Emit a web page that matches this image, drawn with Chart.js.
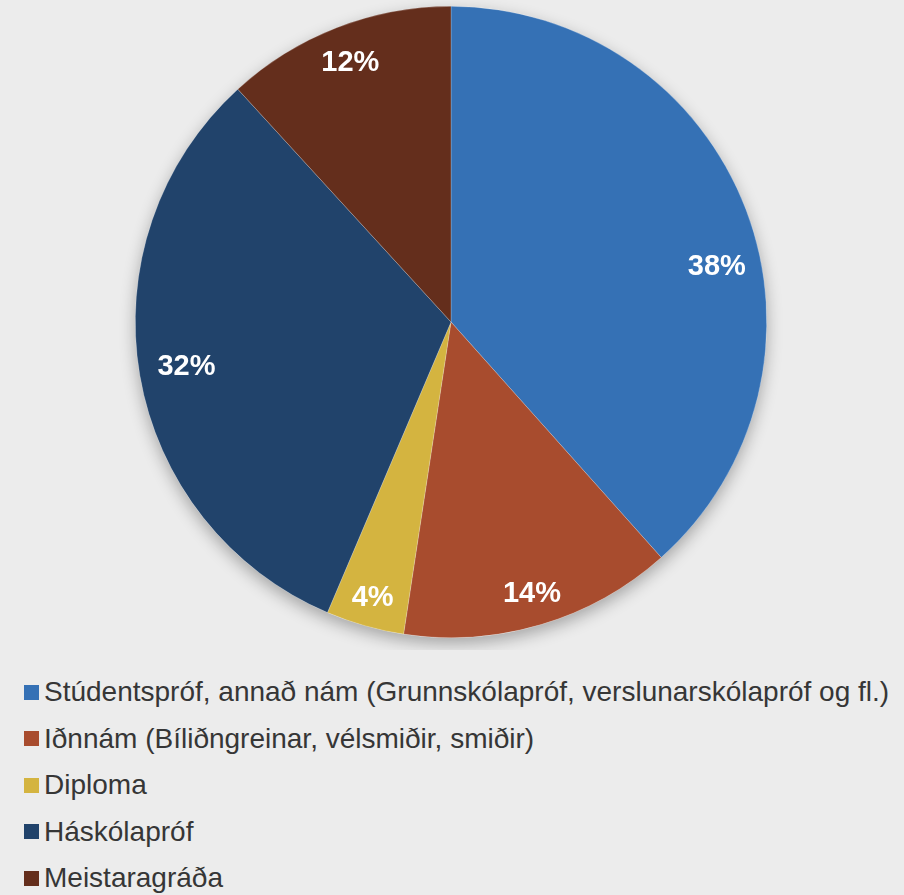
<!DOCTYPE html>
<html>
<head>
<meta charset="utf-8">
<script src="https://cdn.jsdelivr.net/npm/chart.js@4"></script>
<style>
  html, body { margin: 0; padding: 0; background: #ececec; }
  #wrap { width: 904px; height: 650px; position: relative; }
  #legend { position: absolute; left: 24px; top: 669px; font-family: "Liberation Sans", Arial, sans-serif; font-size: 28px; color: #363636; }
  .item { height: 46.5px; display: flex; align-items: center; white-space: nowrap; }
  .box { width: 15px; height: 15px; margin-right: 5px; flex: none; }
</style>
</head>
<body>
<div id="wrap"><canvas id="pie"></canvas></div>
<div id="legend"></div>
<script>
// Flokkar og hlutföll (%)
const categories = [
    'Stúdentspróf, annað nám (Grunnskólapróf, verslunarskólapróf og fl.)',
    'Iðnnám (Bíliðngreinar, vélsmiðir, smiðir)',
    'Diploma',
    'Háskólapróf',
    'Meistaragráða'
];
const shares = [38.4, 14.0, 4.0, 31.8, 11.8];
const colors = ['#3571b5', '#a84c2e', '#d4b440', '#21436b', '#642e1c'];

// Skuggi undir kökunni
const shadowPlugin = {
    id: 'shadow',
    beforeDatasetsDraw(chart) {
        const arc = chart.getDatasetMeta(0).data[0];
        if (!arc) return;
        const c = chart.ctx;
        c.save();
        c.shadowColor = 'rgba(0,0,0,0.3)';
        c.shadowBlur = 16;
        c.shadowOffsetY = 6;
        c.fillStyle = '#ececec';
        c.beginPath();
        c.arc(arc.x, arc.y, arc.outerRadius, 0, Math.PI * 2);
        c.fill();
        c.restore();
    }
};

// Prósentumerki inni í sneiðunum
const labelPlugin = {
    id: 'pctLabels',
    afterDatasetsDraw(chart) {
        const c = chart.ctx;
        const nudge = [0.16, 0, 0, 0, 0]; // smá tilfærsla (radíanar)
        const dist = [0.86, 0.9, 0.91, 0.85, 0.88]; // fjarlægð frá miðju
        c.save();
        c.fillStyle = '#ffffff';
        c.font = 'bold 29px "Liberation Sans", Arial, sans-serif';
        c.textAlign = 'center';
        c.textBaseline = 'middle';
        chart.getDatasetMeta(0).data.forEach((arc, i) => {
            const mid = (arc.startAngle + arc.endAngle) / 2 + nudge[i];
            const r = arc.outerRadius * dist[i];
            c.fillText(Math.round(shares[i]) + '%', arc.x + Math.cos(mid) * r, arc.y + Math.sin(mid) * r);
        });
        c.restore();
    }
};

new Chart(document.getElementById('pie'), {
    type: 'pie',
    data: {
        labels: categories,
        datasets: [{
            data: shares,
            backgroundColor: colors,
            borderWidth: 0.6,
            borderColor: 'rgba(255,255,255,0.35)'
        }]
    },
    options: {
        responsive: true,
        maintainAspectRatio: false,
        animation: false,
        layout: { padding: { top: 6, bottom: 12, left: 0, right: 2 } },
        plugins: {
            legend: { display: false },
            tooltip: { enabled: false }
        }
    },
    plugins: [shadowPlugin, labelPlugin]
});

// Skýringar
const legend = document.getElementById('legend');
categories.forEach((name, i) => {
    const row = document.createElement('div');
    row.className = 'item';
    row.innerHTML = '<span class="box" style="background:' + colors[i] + '"></span><span>' + name + '</span>';
    legend.appendChild(row);
});
</script>
</body>
</html>
